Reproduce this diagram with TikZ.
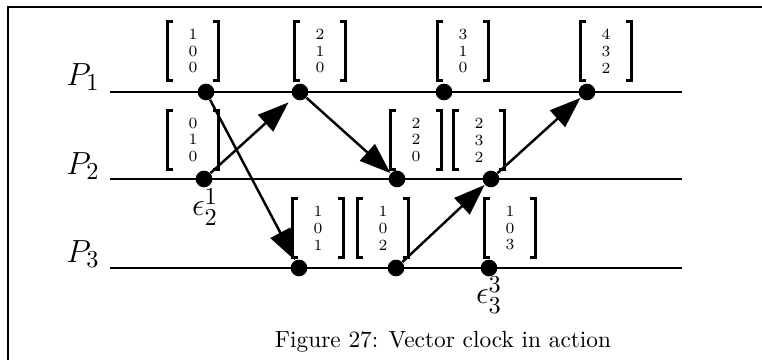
\documentclass[tikz,border=0pt]{standalone}
\usepackage{amsmath,amssymb}
\usepackage{tikz}
\usetikzlibrary{arrows.meta,positioning,calc}
\tikzset{
  evt/.style   = {fill, circle, inner sep=0pt, minimum size=7.5pt},
  vbox/.style  = {inner sep=0pt, minimum width=22.5pt, minimum height=26pt,
                  align=center, font=\fontsize{7}{7.6}\selectfont},
  brk/.style   = {line width=1.1pt},
  proc/.style  = {line width=1.2pt},
  msg/.style   = {-{Triangle[length=14pt,width=10pt]}, line width=1.1pt},
  plab/.style  = {font=\fontsize{15}{17}\selectfont},
}
% vector timestamp: name, position, three entries
\newcommand{\vclock}[5]{%
  \node[vbox] (#1) at (#2) {#3\\#4\\#5};
  \draw[brk] ([xshift=2.5pt]#1.north west) -| (#1.south west) -- ++(2.5pt,0);
  \draw[brk] ([xshift=-2.5pt]#1.north east) -| (#1.south east) -- ++(-2.5pt,0);
}

\begin{document}
\begin{tikzpicture}[x=0.45pt,y=-0.45pt]
\useasboundingbox (0,0) rectangle (762,360);
\draw[line width=1pt] (8,360) -- (8,7) -- (762,7);
% processes
\node[plab] (P1) at (83,77) {$P_1$};
\node[plab] (P2) at (83,166) {$P_2$};
\node[plab] (P3) at (83,254) {$P_3$};
\coordinate (L1s) at (110,92);  \coordinate (L1e) at (682,92);
\coordinate (L2s) at (110,179); \coordinate (L2e) at (682,179);
\coordinate (L3s) at (110,268); \coordinate (L3e) at (682,268);
\draw[proc] (L1s) -- (L1e);
\draw[proc] (L2s) -- (L2e);
\draw[proc] (L3s) -- (L3e);
% events
\node[evt] (a1) at (206,92) {};
\node[evt] (a2) at (300,92) {};
\node[evt] (a3) at (444,92) {};
\node[evt] (a4) at (587,92) {};
\node[evt] (b1) at (204,179) {};
\node[evt] (b2) at (397,179) {};
\node[evt] (b3) at (491,179) {};
\node[evt] (c1) at (299,268) {};
\node[evt] (c2) at (396,268) {};
\node[evt] (c3) at (489,268) {};
% messages
\draw[msg,shorten >=3pt] (b1) -- (a2);
\draw[msg] (a1) -- (c1);
\draw[msg] (a2) -- (b2);
\draw[msg] (c2) -- (b3);
\draw[msg] (b3) -- (a4);
% timestamps
\vclock{va1}{193,51}{1}{0}{0}
\vclock{va2}{320,51}{2}{1}{0}
\vclock{va3}{463,51}{3}{1}{0}
\vclock{va4}{606,51}{4}{3}{2}
\vclock{vb1}{193,140}{0}{1}{0}
\vclock{vb2}{416,140}{2}{2}{0}
\vclock{vb3}{479,140}{2}{3}{2}
\vclock{vc1}{318,228}{1}{0}{1}
\vclock{vc2}{383,228}{1}{0}{2}
\vclock{vc3}{510,228}{1}{0}{3}
\node[plab] (e21) at (205,207) {$\epsilon_2^1$};
\node[plab] (e33) at (489,295) {$\epsilon_3^3$};
\node[font=\fontsize{10.5}{12}\selectfont] (cap) at (443,342) {Figure 27: Vector clock in action};
\end{tikzpicture}
\end{document}
